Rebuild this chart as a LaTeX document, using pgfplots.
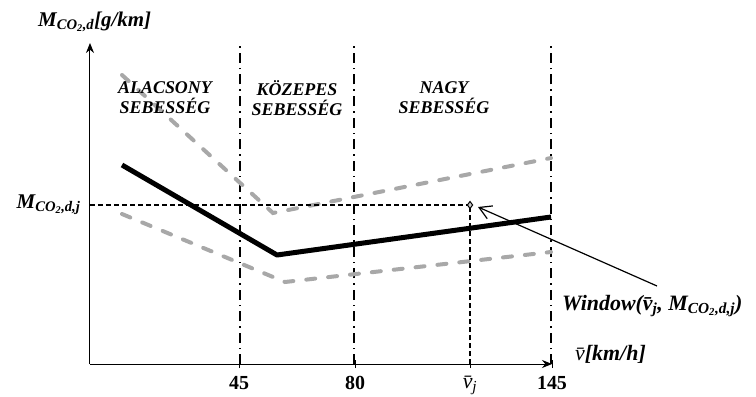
\documentclass[border=0pt]{standalone}
\usepackage{fontspec}
\setmainfont{Liberation Serif}
\usepackage{pgfplots}
\pgfplotsset{compat=1.18}
\usetikzlibrary{arrows.meta}
\definecolor{lgray}{RGB}{168,168,168}
\newcommand{\bi}{\bfseries\itshape}
\begin{document}
\begin{tikzpicture}
\begin{axis}[
  x=1bp, y=1bp,
  xmin=0, xmax=462, ymin=0, ymax=321,
  axis lines=left,
  axis line style={line width=1bp, -{Stealth[length=10bp,width=8bp]}},
  clip=false,
  xtick={149,265,380,462},
  xticklabels={\textbf{45},\textbf{80},{\fontsize{22}{24}\selectfont\itshape\={v}\textsubscript{\itshape j}},\textbf{145}},
  ytick={159},
  yticklabels={{\bi M\textsubscript{CO\textsubscript{2},d,j}}},
  tick align=center,
  x tick style={line width=0.8bp, black},
  major tick length=8bp,
  y tick style={draw=none},
  xticklabel style={font=\fontsize{20}{22}\selectfont, yshift=-5bp},
  yticklabel style={font=\fontsize{21}{24}\selectfont, xshift=-2bp},
]
% boundary coordinates
\coordinate (bl) at (axis cs:-90,-32);
\coordinate (tr) at (axis cs:666,364);
% vertical dash-dot region separators
\addplot[black, line width=1.4bp, dash pattern=on 10bp off 5bp on 1.5bp off 5bp] coordinates {(150,0) (150,322)};
\addplot[black, line width=1.4bp, dash pattern=on 10bp off 5bp on 1.5bp off 5bp] coordinates {(264,0) (264,322)};
\addplot[black, line width=1.4bp, dash pattern=on 10bp off 5bp on 1.5bp off 5bp] coordinates {(461,0) (461,322)};
% gray dashed band
\addplot[lgray, line width=4bp, line cap=round, dash pattern=on 9bp off 13bp] coordinates {(32,289) (183,151) (461,206)};
\addplot[lgray, line width=4bp, line cap=round, dash pattern=on 9bp off 13bp] coordinates {(32,150) (195,82) (461,112)};
% main curve
\addplot[black, line width=5bp, line join=round] coordinates {(32,199) (187,109) (461,147)};
% reference dashed lines
\addplot[black, line width=1.2bp, dash pattern=on 5bp off 3bp] coordinates {(0,159) (380,159)};
\addplot[black, line width=1.2bp, dash pattern=on 5bp off 3bp] coordinates {(380,0) (380,159)};
\addplot[black, line width=1bp, mark=diamond*, mark size=3.5bp, mark options={fill=lgray!60, solid}] coordinates {(380,159)};
% arrow to point
\draw[line width=1.2bp, -{Straight Barb[length=12bp,width=14bp]}] (axis cs:567,78) -- (axis cs:388,157);
% labels
\node[anchor=west, font=\fontsize{21}{24}\selectfont, inner sep=0pt] at (axis cs:-52,342) {\bi M\textsubscript{CO\textsubscript{2},d}[g/km]};
\node[anchor=west, font=\fontsize{22}{24}\selectfont, inner sep=0pt] at (axis cs:485,10) {\itshape\={v}\bfseries[km/h]};
\node[anchor=west, font=\fontsize{22}{24}\selectfont, inner sep=0pt] at (axis cs:472,58) {\bi Window(\={v}\textsubscript{j}, M\textsubscript{CO\textsubscript{2},d,j})};
\node[align=center, font=\fontsize{18}{20}\selectfont\bi] at (axis cs:75,266) {ALACSONY\\SEBESSÉG};
\node[align=center, font=\fontsize{18}{20}\selectfont\bi] at (axis cs:207,266) {KÖZEPES\\SEBESSÉG};
\node[align=center, font=\fontsize{18}{20}\selectfont\bi] at (axis cs:354,266) {NAGY\\SEBESSÉG};
\end{axis}
\pgfresetboundingbox
\path (bl) rectangle (tr);
\end{tikzpicture}
\end{document}
